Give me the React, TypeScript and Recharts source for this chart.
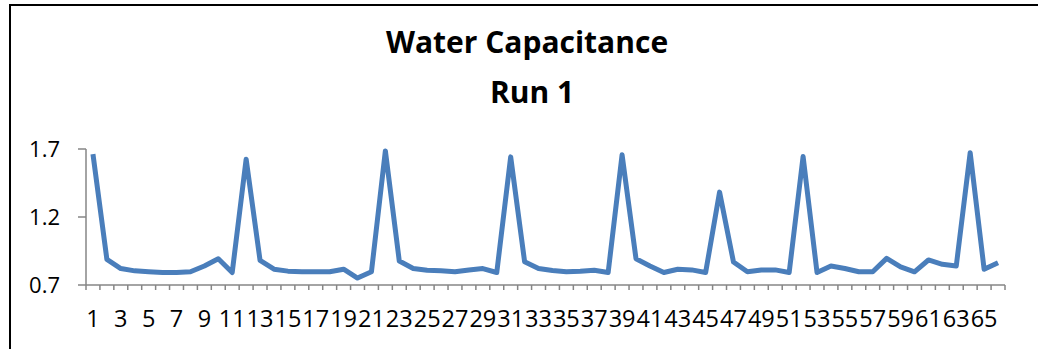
import { LineChart, Line, XAxis, YAxis } from 'recharts';

const runs = Array.from({ length: 66 }, (_, i) => String(i + 1));

const capacitance = [
  1.662, 0.888, 0.821, 0.804, 0.797, 0.792, 0.792, 0.797, 0.84, 0.893,
  0.792, 1.625, 0.881, 0.816, 0.802, 0.797, 0.797, 0.797, 0.816, 0.751,
  0.797, 1.686, 0.876, 0.821, 0.809, 0.804, 0.797, 0.811, 0.821, 0.792,
  1.642, 0.871, 0.821, 0.806, 0.797, 0.801, 0.809, 0.792, 1.657, 0.893,
  0.84, 0.792, 0.816, 0.811, 0.792, 1.383, 0.869, 0.797, 0.811, 0.811,
  0.792, 1.645, 0.792, 0.84, 0.821, 0.797, 0.797, 0.896, 0.833, 0.797,
  0.884, 0.852, 0.84, 1.673, 0.816, 0.864,
];

const yTicks = [0.7, 1.2, 1.7];

const chartData = runs.map((name, i) => ({ name, value: capacitance[i] }));

const W = 1038;
const H = 349;
const PLOT_LEFT = 86;
const PLOT_RIGHT = 1005;
const STEP = (PLOT_RIGHT - PLOT_LEFT) / runs.length;
const FONT = '"Open Sans", sans-serif';
const AXIS = '#868686';

function RunTick(props: any) {
  const { x, y, payload, index } = props;
  const last = index === runs.length - 1;
  return (
    <g>
      <line x1={x - STEP / 2} x2={x - STEP / 2} y1={y} y2={y + 5} stroke={AXIS} strokeWidth={1.5} />
      {last && (
        <line x1={x + STEP / 2} x2={x + STEP / 2} y1={y} y2={y + 5} stroke={AXIS} strokeWidth={1.5} />
      )}
      {index % 2 === 0 && (
        <text x={x} y={y + 42} textAnchor="middle" fontSize={23.5} fontFamily={FONT} fill="#000">
          {payload.value}
        </text>
      )}
    </g>
  );
}

export default function App() {
  return (
    <div style={{ position: 'absolute', left: 0, top: 0, width: W, height: H, background: '#fff', overflow: 'hidden' }}>
      <div
        style={{
          position: 'absolute',
          left: 9,
          top: 4,
          width: W,
          height: H,
          borderTop: '2px solid #000',
          borderLeft: '2px solid #000',
        }}
      />
      <svg width={W} height={H} style={{ position: 'absolute', left: 0, top: 0 }}>
        <text x={527} y={53} textAnchor="middle" fontSize={30} fontWeight="bold" fontFamily={FONT} fill="#000">
          Water Capacitance
        </text>
        <text x={532} y={103} textAnchor="middle" fontSize={30} fontWeight="bold" fontFamily={FONT} fill="#000">
          Run 1
        </text>
      </svg>
      <div style={{ position: 'absolute', left: 0, top: 0 }}>
        <LineChart
          width={W}
          height={H}
          data={chartData}
          margin={{ top: 149, right: W - PLOT_RIGHT, bottom: 24, left: 0 }}
        >
          <XAxis
            dataKey="name"
            interval={0}
            padding={{ left: STEP / 2, right: STEP / 2 }}
            tickSize={0}
            tickMargin={0}
            tickLine={false}
            height={40}
            axisLine={{ stroke: AXIS, strokeWidth: 1.5 }}
            tick={<RunTick />}
          />
          <YAxis
            width={PLOT_LEFT}
            domain={[0.7, 1.7]}
            ticks={yTicks}
            tickFormatter={(v) => Number(v).toFixed(1)}
            tickSize={8}
            tickMargin={18}
            axisLine={{ stroke: AXIS, strokeWidth: 1.5 }}
            tickLine={{ stroke: AXIS, strokeWidth: 1.5 }}
            tick={{ fontSize: 22, fill: '#000', fontFamily: FONT }}
          />
          <Line
            type="linear"
            dataKey="value"
            stroke="#4a7ebb"
            strokeWidth={5}
            strokeLinejoin="round"
            dot={false}
            isAnimationActive={false}
          />
        </LineChart>
      </div>
    </div>
  );
}
